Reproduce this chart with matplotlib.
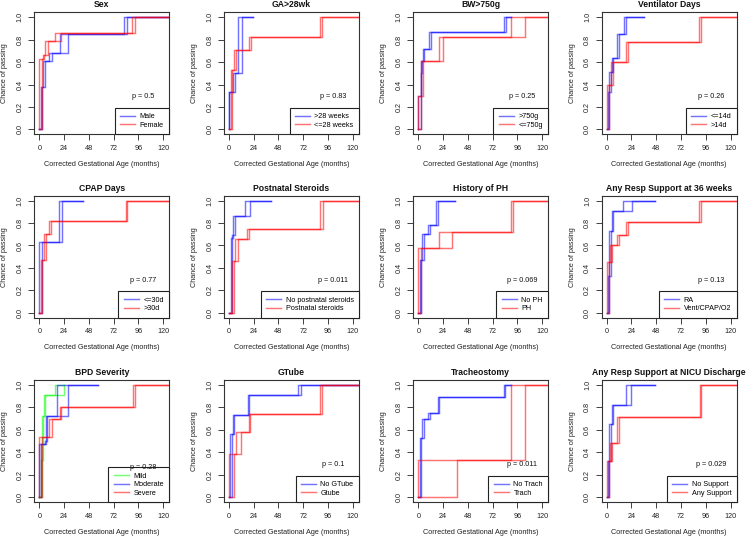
import matplotlib
matplotlib.use('Agg')
import matplotlib.pyplot as plt
import numpy as np
from matplotlib.lines import Line2D

plt.rcParams['font.family'] = ['Liberation Sans', 'DejaVu Sans']

# ---------------- data ----------------
titles = ["Sex", "GA>28wk", "BW>750g", "Ventilator Days",
          "CPAP Days", "Postnatal Steroids", "History of PH", "Any Resp Support at 36 weeks",
          "BPD Severity", "GTube", "Tracheostomy", "Any Resp Support at NICU Discharge"]
pvals = ["0.5", "0.83", "0.25", "0.26", "0.77", "0.011", "0.069", "0.13",
         "0.28", "0.1", "0.011", "0.029"]
p_y = [0.29, 0.29, 0.29, 0.29, 0.29, 0.29, 0.29, 0.29, 0.262, 0.29, 0.29, 0.29]
x_ticks = [0, 24, 48, 72, 96, 120]
y_ticks = [0.0, 0.2, 0.4, 0.6, 0.8, 1.0]
FULL = 135  # group curve runs to the right edge

# each group: label, colour, step levels, lower-bound jumps, upper-bound jumps, end time
sex = [("Male", "blue", [0.38, 0.61, 0.68, 0.85, 1.0], [1.5, 4, 9.5, 20, 82], [3, 6, 12.5, 28, 85], FULL),
       ("Female", "red", [0.63, 0.66, 0.79, 0.86, 1.0], [0, 3.2, 6, 15, 90], [2.6, 4.8, 8, 21.5, 92.5], FULL)]
ga = [(">28 weeks", "blue", [0.33, 0.5, 1.0], [0, 3.8, 8.8], [0, 5.4, 12.6], 23.7),
      ("<=28 weeks", "red", [0.53, 0.71, 0.82, 1.0], [1.6, 5, 19.6, 88.4], [3.2, 6.6, 21, 90.3], FULL)]
bw = [(">750g", "blue", [0.3, 0.5, 0.61, 0.72, 0.87, 1.0], [0, 2.2, 3, 4.5, 10.2, 83], [2.2, 3, 3.8, 5.4, 12.2, 85], 90),
      ("<=750g", "red", [0.3, 0.61, 0.82, 1.0], [0, 2.2, 20, 90], [2.2, 4.5, 24, 103], FULL)]
vent = [("<=14d", "blue", [0.33, 0.51, 0.64, 0.85, 1.0], [1.6, 2.6, 4.8, 10.2, 16.6], [2.6, 4.2, 6.4, 12.2, 18.6], 36),
        (">14d", "red", [0.4, 0.6, 0.78, 1.0], [0, 4.2, 19.2, 89.6], [2.6, 6.4, 20.8, 91.8], FULL)]
cpap = [("<=30d", "blue", [0.63, 1.0], [0, 19.4], [2.9, 21.6], 42.6),
        (">30d", "red", [0.47, 0.70, 0.82, 1.0], [1.3, 4.8, 9.7, 84], [2.9, 6.1, 11, 85], FULL)]
steroids = [("No postnatal steroids", "blue", [0.67, 0.69, 0.86, 1.0], [1.6, 2.5, 4.1, 15.2], [2.5, 3.5, 5.7, 20.8], 40.4),
            ("Postnatal steroids", "red", [0.46, 0.66, 0.75, 1.0], [3.2, 6.3, 17.4, 88.4], [5, 8.5, 19.6, 91], FULL)]
ph = [("No PH", "blue", [0.47, 0.70, 0.78, 1.0], [1.6, 3.8, 9.6, 17], [2.9, 5.4, 10.9, 18.9], 35.8),
      ("PH", "red", [0.58, 0.72, 1.0], [0, 19.8, 89.6], [2.2, 32.6, 91.8], FULL)]
resp36 = [("RA", "blue", [0.33, 0.73, 0.91, 1.0], [1.6, 2.6, 4.8, 15.4], [2.6, 4.2, 6.4, 24.6], 46.4),
          ("Vent/CPAP/O2", "red", [0.45, 0.60, 0.69, 0.81, 1.0], [0, 3.2, 10.2, 19.2, 89.6], [2.6, 4.8, 12.2, 20.8, 91.8], FULL)]
bpd = [("Mild", "lime", [0.33, 0.72, 0.91, 1.0], [1.3, 2.9, 4.5, 15.2], [2.9, 3.9, 5.5, 23.9], 23.9),
       ("Moderate", "blue", [0.47, 0.50, 0.72, 1.0], [0, 5.5, 6.5, 16.8], [1.3, 6.5, 7.7, 28], 56.5),
       ("Severe", "red", [0.54, 0.70, 0.80, 1.0], [0, 9.4, 20, 91], [2.9, 12.6, 21, 92.6], FULL)]
gtube = [("No GTube", "blue", [0.56, 0.73, 0.91, 1.0], [1, 3.5, 18.3, 67], [2.5, 5, 19.6, 69.5], FULL),
         ("Gtube", "red", [0.38, 0.58, 0.74, 1.0], [0, 7.3, 19.6, 88.4], [5, 12, 20.8, 90.6], FULL)]
trach = [("No Trach", "blue", [0.53, 0.70, 0.75, 0.89, 1.0], [1.6, 3.8, 9.6, 18.9, 82.9], [2.9, 5.4, 10.9, 20.5, 84.5], 90),
         ("Trach", "red", [0.33, 1.0], [0, 90.2], [38, 103], FULL)]
nicu = [("No Support", "blue", [0.32, 0.65, 0.82, 1.0], [1.6, 2.6, 4.8, 18.6], [2.6, 4.2, 6.4, 24], 46.4),
        ("Any Support", "red", [0.32, 0.48, 0.71, 1.0], [0, 3.2, 10.2, 90.2], [2.6, 4.8, 12.2, 91.8], FULL)]

panels = [sex, ga, bw, vent, cpap, steroids, ph, resp36, bpd, gtube, trach, nicu]

# ---------------- layout ----------------
W, H = 747, 537
fig = plt.figure(figsize=(W / 100, H / 100), dpi=100)
col_left = [34.3, 224.0, 413.3, 601.7]
row_top = [12.3, 195.7, 380.0]
AW, AH = 135, 122
FS = 5.2
ALPHA = 0.55


def step_xy(levels, jumps, end):
    xs, ys = [0.0], [0.0]
    prev = 0.0
    for lv, jx in zip(levels, jumps):
        xs += [jx, jx]
        ys += [prev, lv]
        prev = lv
    xs.append(end)
    ys.append(prev)
    return xs, ys


for i, groups in enumerate(panels):
    r, c = divmod(i, 4)
    left = col_left[c]
    top = row_top[r]
    ax = fig.add_axes([left / W, 1 - (top + AH) / H, AW / W, AH / H])
    ax.set_xlim(-4.8, 126)
    ax.set_ylim(-0.043, 1.043)

    handles = []
    for (lab, col, lv, lo, hi, end) in groups:
        for jumps in (lo, hi):
            xs, ys = step_xy(lv, jumps, end)
            ax.plot(xs, ys, color=col, alpha=ALPHA, lw=1.05, solid_joinstyle='miter')
        handles.append(Line2D([], [], color=col, alpha=ALPHA, lw=1.05))

    ax.set_xticks(x_ticks)
    ax.set_xticklabels([str(t) for t in x_ticks])
    ax.set_yticks(y_ticks)
    ax.set_yticklabels(["%.1f" % t for t in y_ticks], rotation=90, va='center')
    ax.tick_params(direction='out', length=4, width=0.6, labelsize=FS, pad=3.6,
                   colors='#222222')
    for sp in ax.spines.values():
        sp.set_linewidth(0.8)
        sp.set_color('#333333')

    ax.set_title(titles[i], fontsize=6.2, fontweight='bold', pad=3.5, color='#111111')
    ax.text(101, p_y[i], "p = " + pvals[i], ha='center', va='center', fontsize=FS,
            color='#111111', zorder=6)

    leg = ax.legend(handles, [g[0] for g in groups], loc='lower right', borderaxespad=0,
                    fontsize=FS, frameon=True, fancybox=False, edgecolor='#222222',
                    framealpha=1, borderpad=0.75, handlelength=2.1, handletextpad=0.6,
                    labelspacing=0.2)
    leg.get_frame().set_linewidth(0.8)
    leg.set_zorder(5)

    # axis labels
    fig.text((left + AW / 2) / W, 1 - (top + AH + 30) / H,
             "Corrected Gestational Age (months)", ha='center', va='center',
             fontsize=FS, color='#222222')
    fig.text((left - 29.5) / W, 1 - (top + AH / 2) / H, "Chance of passing",
             ha='center', va='center', rotation=90, fontsize=FS, color='#222222')

fig.savefig("out.png", dpi=100)
